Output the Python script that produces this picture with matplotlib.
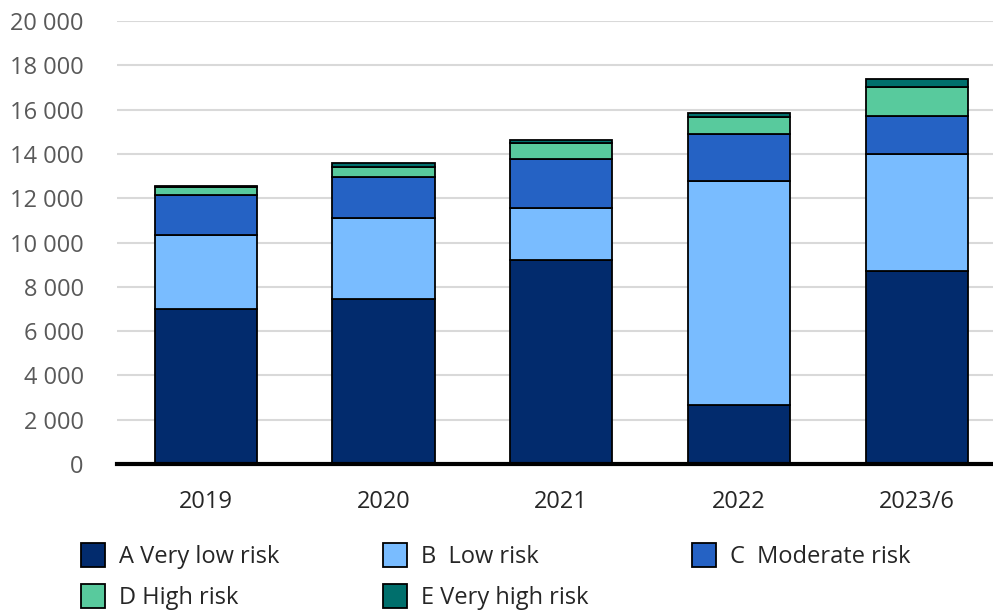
import matplotlib
matplotlib.use("Agg")
import matplotlib.pyplot as plt
import numpy as np
from matplotlib.ticker import FuncFormatter

plt.rcParams["font.family"] = ["Open Sans", "DejaVu Sans"]

years = ["2019", "2020", "2021", "2022", "2023/6"]
very_low = [7000, 7450, 9210, 2660, 8710]
low = [3340, 3670, 2330, 10130, 5300]
moderate = [1800, 1820, 2230, 2120, 1700]
high = [380, 480, 740, 740, 1320]
very_high = [40, 160, 120, 200, 350]

series = [
    ("A Very low risk", very_low, "#022b6d"),
    ("B  Low risk", low, "#79bcff"),
    ("C  Moderate risk", moderate, "#2562c4"),
    ("D High risk", high, "#58ca9d"),
    ("E Very high risk", very_high, "#006f6c"),
]

fig = plt.figure(figsize=(9.93, 6.14), dpi=100)
ax = fig.add_axes([117 / 993, 150 / 614, 1 - 117 / 993, 443 / 614])

x = np.arange(len(years))
bottom = np.zeros(len(years))
handles = []
for label, vals, color in series:
    b = ax.bar(x, vals, width=0.575, bottom=bottom, color=color,
               edgecolor="black", linewidth=1.3, label=label, zorder=3)
    handles.append(b)
    bottom += np.array(vals)

ax.set_ylim(0, 20000)
ax.set_xlim(-0.5, 4.43)
ax.set_yticks(np.arange(0, 20001, 2000))
ax.yaxis.set_major_formatter(FuncFormatter(lambda v, _: f"{int(v):,}".replace(",", " ")))
ax.set_xticks(x)
ax.set_xticklabels(years)
ax.grid(axis="y", color="#d9d9d9", linewidth=1.5, zorder=0)
ax.set_axisbelow(True)
for s in ["top", "right", "left"]:
    ax.spines[s].set_visible(False)
ax.spines["bottom"].set_color("black")
ax.spines["bottom"].set_linewidth(3)
ax.spines["bottom"].set_zorder(4)
ax.tick_params(axis="both", length=0, labelsize=17, colors="#595959")
ax.tick_params(axis="x", pad=19, labelcolor="#262626")
ax.tick_params(axis="y", pad=24)

# row-wise ordering for a 3-column legend
order = [0, 3, 1, 4, 2]
fig.legend([handles[i] for i in order], [series[i][0] for i in order],
           loc="upper left", bbox_to_anchor=(60 / 993, 92 / 614), ncol=3,
           frameon=False, fontsize=17, handlelength=1.0, handleheight=1.2,
           handletextpad=0.6, columnspacing=4.4, labelspacing=0.62,
           labelcolor="#262626")

fig.savefig("out.png", dpi=100)
